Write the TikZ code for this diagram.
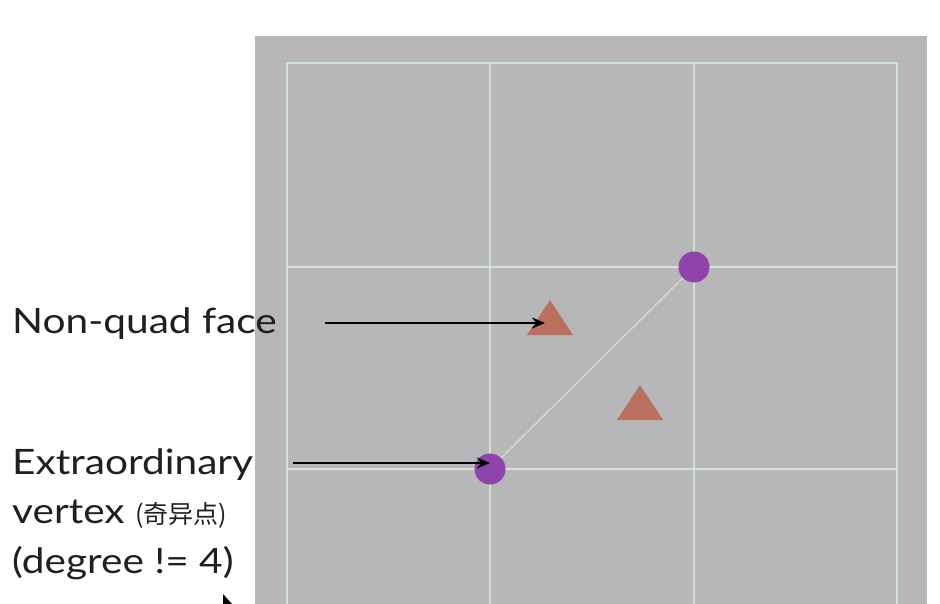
\documentclass[tikz,border=0pt]{standalone}
\usepackage{fontspec}
\setmainfont{Lato}[FakeStretch=1.16]
\newfontfamily\cjk{Noto Sans CJK SC}
\usetikzlibrary{arrows.meta}
\definecolor{panel}{RGB}{183,183,185}
\definecolor{gridc}{RGB}{208,226,208}
\definecolor{vert}{RGB}{142,68,170}
\definecolor{face}{RGB}{186,112,92}
\definecolor{diag}{RGB}{214,222,214}
\begin{document}
\begin{tikzpicture}[x=1pt,y=-1pt,
  gridline/.style={draw=gridc,line width=1.8pt},
  dot/.style={circle,fill=vert,inner sep=0pt,minimum size=31pt},
  lab/.style={anchor=base west,inner sep=0pt,font=\fontsize{35}{40}\selectfont,text=black!88},
  pointer/.style={-{Stealth[length=13pt,width=11pt]},line width=2.8pt,black}]
\useasboundingbox (0,0) rectangle (940,604);
\fill[white] (0,0) rectangle (940,604);
\fill[panel] (255,36) rectangle (927,604);
% grid
\foreach \x in {287,490,694,897} \draw[gridline] (\x,63) -- (\x,604);
\foreach \y in {63,267,469} \draw[gridline] (287,\y) -- (897,\y);
% vertices
\node[dot] (v1) at (694,267) {};
\node[dot] (v2) at (490,469) {};
\draw[diag,line width=1.2pt] (v2) -- (v1);
% faces
\fill[face] (550,300) -- (573,335) -- (527,335) -- cycle;
\fill[face] (640,385) -- (663,420) -- (617,420) -- cycle;
\coordinate (f1) at (545,323);
% labels
\node[lab] (l1) at (12,333) {Non-quad face};
\node[lab] (l2) at (12,474) {Extraordinary};
\node[lab] (l3) at (12,523) {vertex {\cjk\fontsize{25}{28}\selectfont (奇异点)}};
\node[lab] (l4) at (12,573) {(degree != 4)};
% arrows
\coordinate (a1) at (325,323);
\coordinate (a2) at (293,463);
\coordinate (v2tip) at (490,463);
\draw[pointer] (a1) -- (f1);
\draw[pointer] (a2) -- (v2tip);
% cursor fragment
\fill[black] (223,594) -- (232,604) -- (223,604) -- cycle;
\end{tikzpicture}
\end{document}
